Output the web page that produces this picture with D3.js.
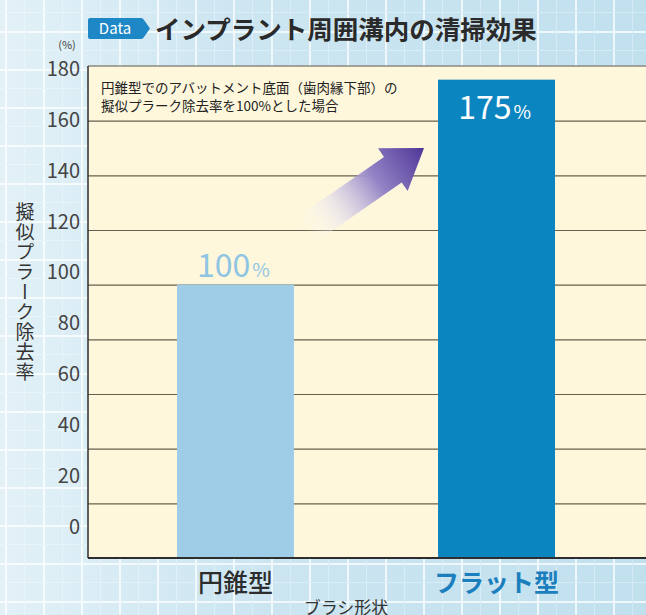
<!DOCTYPE html>
<html><head><meta charset="utf-8">
<script src="https://cdn.jsdelivr.net/npm/d3@7"></script>
<style>
html,body{margin:0;padding:0;background:#fff;}
svg{display:block;}
text{font-family:"Noto Sans CJK JP","Open Sans",sans-serif;}
</style></head>
<body>
<svg id="chart" width="646" height="615"></svg>
<script>
// ---- data ----
const categories = ["円錐型", "フラット型"];
const values = [100, 175];
const valueLabels = ["100", "175"];
const yTicks = [0, 20, 40, 60, 80, 100, 120, 140, 160, 180];
const titleText = "インプラント周囲溝内の清掃効果";
const badgeText = "Data";
const yTitle = "擬似プラーク除去率";
const xTitle = "ブラシ形状";
const unitLabel = "(%)";
const noteLines = ["円錐型でのアバットメント底面（歯肉縁下部）の", "擬似プラーク除去率を100%とした場合"];

// ---- layout ----
const W = 646, H = 615;
const plot = {left: 88, right: 646, top: 66, bottom: 558};
const svg = d3.select("#chart");
const defs = svg.append("defs");

// background: light blue grid paper
const pat = defs.append("pattern").attr("id", "gridpaper")
  .attr("patternUnits", "userSpaceOnUse").attr("width", 38).attr("height", 38)
  .attr("x", 5).attr("y", 31);
pat.append("rect").attr("width", 38).attr("height", 38).attr("fill", "#c1e0ee");
pat.append("rect").attr("x", 0).attr("y", 0).attr("width", 2).attr("height", 38).attr("fill", "#eef7fb");
pat.append("rect").attr("x", 0).attr("y", 0).attr("width", 38).attr("height", 2).attr("fill", "#eef7fb");
pat.append("rect").attr("x", 19).attr("y", 0).attr("width", 1).attr("height", 38).attr("fill", "#d4ebf5");
pat.append("rect").attr("x", 0).attr("y", 19).attr("width", 38).attr("height", 1).attr("fill", "#d4ebf5");
svg.append("rect").attr("width", W).attr("height", H).attr("fill", "url(#gridpaper)");
const fade = defs.append("linearGradient").attr("id", "fade").attr("x1", 0).attr("x2", 1).attr("y1", 0).attr("y2", 0);
fade.append("stop").attr("offset", 0).attr("stop-color", "#fff").attr("stop-opacity", 0.55);
fade.append("stop").attr("offset", 0.35).attr("stop-color", "#fff").attr("stop-opacity", 0.2);
fade.append("stop").attr("offset", 1).attr("stop-color", "#fff").attr("stop-opacity", 0);
svg.append("rect").attr("width", W).attr("height", H).attr("fill", "url(#fade)");

// scales
const y = d3.scaleLinear().domain([0, 180]).range([plot.bottom, plot.top]);
const yLabel = d3.scaleLinear().domain([0, 180]).range([527, 69]);
const x = d3.scaleBand().domain(categories).range([plot.left, 644]).paddingInner(0.552).paddingOuter(0.341);

// plot area
svg.append("rect").attr("x", plot.left).attr("y", plot.top)
  .attr("width", plot.right - plot.left).attr("height", plot.bottom - plot.top)
  .attr("fill", "#fef7dc");

// gridlines
const grid = svg.append("g").attr("transform", `translate(${plot.left},0)`)
  .call(d3.axisLeft(y).tickValues(yTicks.filter(t => t > 0 && t < 180)).tickSize(-(plot.right - plot.left)).tickFormat(""));
grid.select(".domain").remove();
grid.selectAll("line").attr("stroke", "#67624f").attr("stroke-width", 1.1);

// top border
svg.append("line").attr("x1", plot.left).attr("x2", plot.right)
  .attr("y1", y(180)).attr("y2", y(180)).attr("stroke", "#8a8a80").attr("stroke-width", 1.5);

// note text
const note = svg.append("text").attr("x", plot.left + 13).attr("font-size", 13.5).attr("fill", "#222");
noteLines.forEach((l, i) => note.append("tspan").attr("x", plot.left + 13).attr("y", 93 + i * 18).text(l));

// arrow
const bw = x.bandwidth();
const T = [x(categories[0]) + bw + 12, y(120)];
const Hd = [x(categories[1]) - 14, y(150)];
const dx = Hd[0] - T[0], dy = Hd[1] - T[1];
const L = Math.hypot(dx, dy);
const u = [dx / L, dy / L], n = [-u[1], u[0]];
const sw = 15.5, hl = 38, hw = 26;
const B = [Hd[0] - u[0] * hl, Hd[1] - u[1] * hl];
const P = (p, k) => [p[0] + n[0] * k, p[1] + n[1] * k];
const pts = [P(T, sw), P(B, sw), P(B, hw), Hd, P(B, -hw), P(B, -sw), P(T, -sw)];
const ag = defs.append("linearGradient").attr("id", "arrowGrad").attr("gradientUnits", "userSpaceOnUse")
  .attr("x1", T[0]).attr("y1", T[1]).attr("x2", Hd[0]).attr("y2", Hd[1]);
ag.append("stop").attr("offset", 0).attr("stop-color", "#ffffff").attr("stop-opacity", 0);
ag.append("stop").attr("offset", 0.25).attr("stop-color", "#e4e0ef").attr("stop-opacity", 0.6);
ag.append("stop").attr("offset", 0.6).attr("stop-color", "#9384c6");
ag.append("stop").attr("offset", 1).attr("stop-color", "#4f3697");
svg.append("path").attr("d", d3.line()(pts) + "Z").attr("fill", "url(#arrowGrad)");

// bars
const barColors = ["#9fcde8", "#0b85bf"];
svg.append("g").selectAll("rect").data(categories).join("rect")
  .attr("x", d => x(d)).attr("width", bw)
  .attr("y", (d, i) => y(values[i])).attr("height", (d, i) => y(0) - y(values[i]))
  .attr("fill", (d, i) => barColors[i]);

// value labels
const vl = svg.append("g").selectAll("text").data(categories).join("text")
  .attr("x", d => x(d) + bw / 2 - 2)
  .attr("y", (d, i) => i === 0 ? y(values[i]) - 8 : y(values[i]) + 39)
  .attr("text-anchor", "middle")
  .attr("font-family", "'Open Sans',sans-serif")
  .attr("fill", (d, i) => i === 0 ? "#8fc4e3" : "#ffffff");
vl.append("tspan").attr("font-size", 32).text((d, i) => valueLabels[i]);
vl.append("tspan").attr("font-size", 19).attr("dx", 2).text("%");

// bottom and left borders
svg.append("line").attr("x1", plot.left).attr("x2", plot.right)
  .attr("y1", y(0)).attr("y2", y(0)).attr("stroke", "#2e2e2e").attr("stroke-width", 2);
svg.append("line").attr("x1", plot.left).attr("x2", plot.left)
  .attr("y1", plot.top).attr("y2", plot.bottom).attr("stroke", "#2e2e2e").attr("stroke-width", 1.5);

// y tick labels
const ya = svg.append("g").attr("transform", "translate(80,0)")
  .call(d3.axisLeft(yLabel).tickValues(yTicks).tickSize(0).tickPadding(0));
ya.select(".domain").remove();
ya.selectAll("text").attr("font-size", 20).attr("fill", "#444")
  .attr("font-family", "'Open Sans',sans-serif");

// unit
svg.append("text").attr("x", 67).attr("y", 49).attr("text-anchor", "middle")
  .attr("font-size", 11).attr("fill", "#444").text(unitLabel);

// y title (vertical)
svg.append("text").attr("x", 25).attr("y", 292).attr("text-anchor", "middle")
  .style("writing-mode", "vertical-rl").style("text-orientation", "upright")
  .attr("font-size", 19).attr("letter-spacing", 1).attr("fill", "#333").text(yTitle);

// category labels
svg.append("g").selectAll("text").data(categories).join("text")
  .attr("x", d => x(d) + bw / 2).attr("y", 592).attr("text-anchor", "middle")
  .attr("font-size", 25)
  .attr("font-weight", (d, i) => i === 0 ? 500 : 700)
  .attr("fill", (d, i) => i === 0 ? "#2d2d2d" : "#1b7fbd")
  .text(d => d);

// x title
svg.append("text").attr("x", 346).attr("y", 614).attr("text-anchor", "middle")
  .attr("font-size", 17).attr("fill", "#333").text(xTitle);

// title badge
svg.append("path").attr("d", "M90,18 H141 Q143,18 144,20 L150,28.5 L144,37 Q143,39 141,39 H90 Q88,39 88,37 V20 Q88,18 90,18 Z").attr("fill", "#1e87c6");
svg.append("text").attr("x", 115).attr("y", 34).attr("text-anchor", "middle")
  .attr("font-family", "'Open Sans',sans-serif").attr("font-size", 15).attr("fill", "#fff").text(badgeText);
svg.append("text").attr("x", 155).attr("y", 39).attr("font-size", 25.5).attr("font-weight", 700)
  .attr("fill", "#2a2a2a").text(titleText);
</script>
</body></html>
